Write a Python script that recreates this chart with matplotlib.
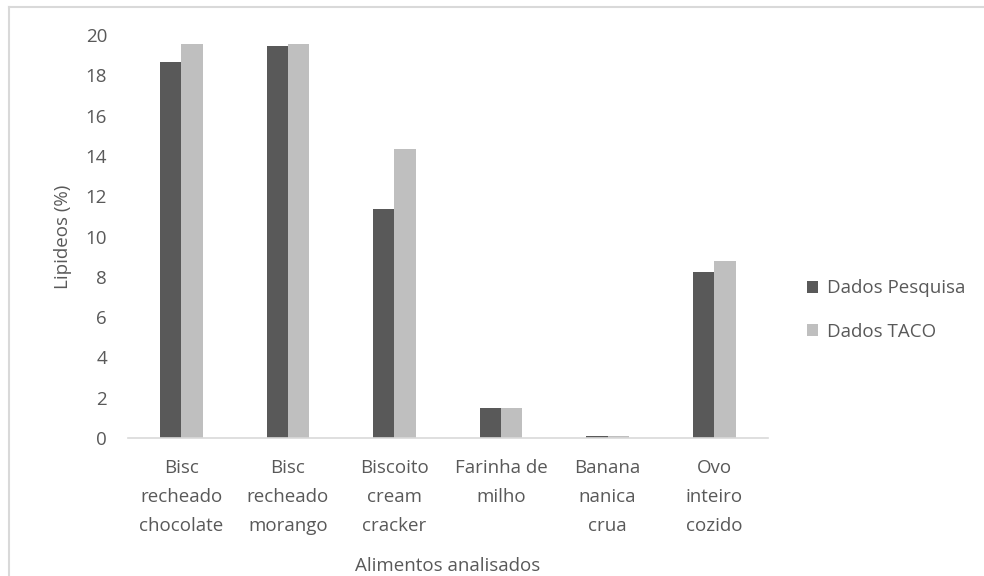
import numpy as np
import matplotlib.pyplot as plt
from matplotlib.lines import Line2D

plt.rcParams['font.family'] = ['Open Sans', 'DejaVu Sans']

# Data
categorias = ['Bisc\nrecheado\nchocolate', 'Bisc\nrecheado\nmorango', 'Biscoito\ncream\ncracker',
              'Farinha de\nmilho', 'Banana\nnanica\ncrua', 'Ovo\ninteiro\ncozido']
dados_pesquisa = [18.67, 19.45, 11.36, 1.47, 0.11, 8.24]
dados_taco = [19.55, 19.55, 14.33, 1.47, 0.11, 8.8]

cor_texto = '#595959'
fs = 13.5
fig = plt.figure(figsize=(9.84, 5.76), dpi=100)
ax = fig.add_axes([0.130, 0.2396, 0.650, 0.6996])

x = np.arange(len(categorias))
w = 0.2
ax.bar(x - w / 2, dados_pesquisa, w, color='#595959', label='Dados Pesquisa')
ax.bar(x + w / 2, dados_taco, w, color='#bfbfbf', label='Dados TACO')

ax.set_xlim(-0.5, len(categorias) - 0.5)
ax.set_ylim(0, 20)
ax.set_yticks(range(0, 21, 2))
ax.set_xticks(x)
ax.set_xticklabels(categorias, linespacing=1.78)
ax.tick_params(axis='both', length=0, colors=cor_texto, labelsize=fs)
ax.tick_params(axis='x', pad=15)
ax.tick_params(axis='y', pad=15)
for s in ['top', 'right', 'left']:
    ax.spines[s].set_visible(False)
ax.spines['bottom'].set_color('#d9d9d9')
ax.spines['bottom'].set_linewidth(1.2)

ax.set_ylabel('Lipideos (%)', color=cor_texto, fontsize=fs, labelpad=10)
ax.set_xlabel('Alimentos analisados', color=cor_texto, fontsize=fs, labelpad=16)

ax.legend(loc='center left', bbox_to_anchor=(1.035, 0.318), frameon=False, fontsize=fs,
          labelcolor=cor_texto, handlelength=0.6, handleheight=0.6, handletextpad=0.5,
          labelspacing=1.35)

# light frame around the chart area
fig.add_artist(Line2D([9 / 984, 1], [1 - 7 / 576, 1 - 7 / 576], color='#d9d9d9', lw=1.5))
fig.add_artist(Line2D([9 / 984, 9 / 984], [0, 1 - 7 / 576], color='#d9d9d9', lw=1.5))

fig.savefig('out.png', dpi=100)
